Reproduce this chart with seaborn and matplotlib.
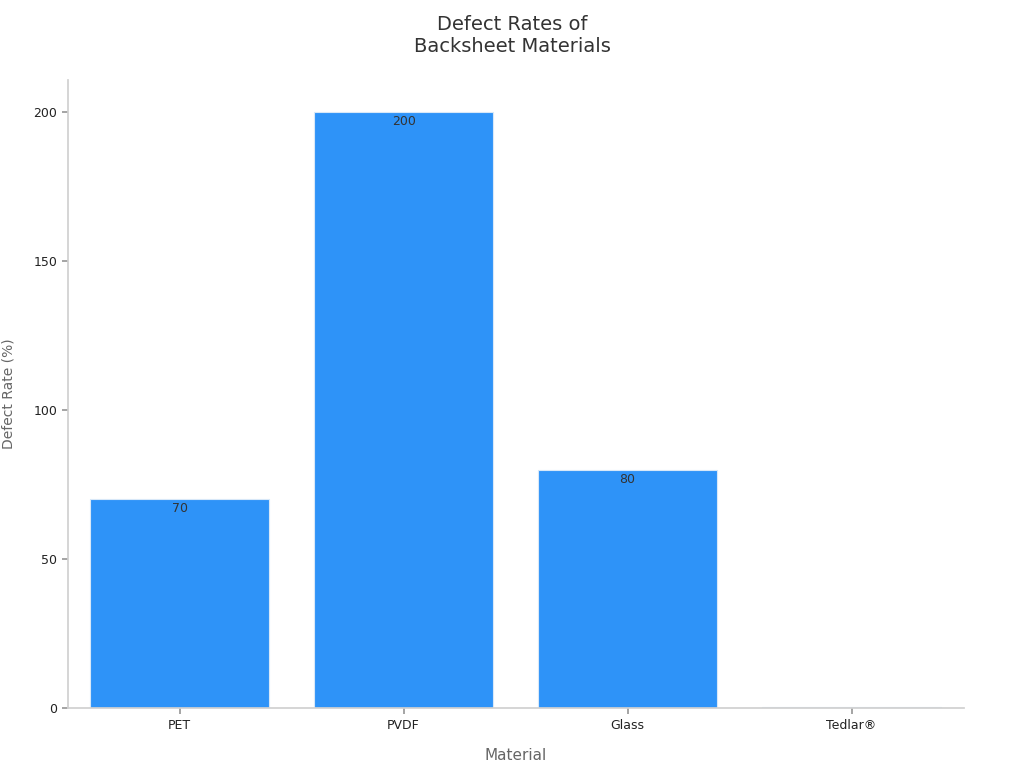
import matplotlib
matplotlib.use("Agg")
import matplotlib.pyplot as plt
import seaborn as sns
import pandas as pd

materials = ["PET", "PVDF", "Glass", "Tedlar®"]
defect_rates = [70, 200, 80, 0.3]
labels = ["70", "200", "80", ""]

sns.set_theme(style="white")
plt.rcParams['font.family'] = ['DejaVu Sans']
df = pd.DataFrame({"Material": materials, "Rate": defect_rates})

fig = plt.figure(figsize=(10.24, 7.68), dpi=100)
ax = fig.add_axes([0.066, 0.078, 0.875, 0.818])
sns.barplot(data=df, x="Material", y="Rate", color="#2E93F8", saturation=1,
            width=0.8, edgecolor="#d8e8f8", linewidth=0.8, ax=ax)
for c, l in zip(ax.patches, labels):
    if l:
        ax.text(c.get_x() + c.get_width() / 2, c.get_height() - 1, l,
                ha="center", va="top", fontsize=9, color="#333333")
ax.set_xlim(-0.5, 3.5)
ax.set_ylim(0, 210.7)
ax.set_yticks([0, 50, 100, 150, 200])
for s in ["top", "right"]:
    ax.spines[s].set_visible(False)
for s in ["left", "bottom"]:
    ax.spines[s].set_color("#d0d0d0")
ax.tick_params(axis="both", length=4, color="#999999", labelsize=9, labelcolor="#222222", bottom=True, left=True)
ax.set_xlabel("Material", fontsize=11, color="#666666", labelpad=12)
ax.set_ylabel("Defect Rate (%)", fontsize=10, color="#666666", labelpad=12)
ax.yaxis.set_label_coords(-0.058, 0.5)
fig.suptitle("Defect Rates of\nBacksheet Materials", fontsize=14, color="#333333", y=0.98)
fig.savefig("out.png", dpi=100)
